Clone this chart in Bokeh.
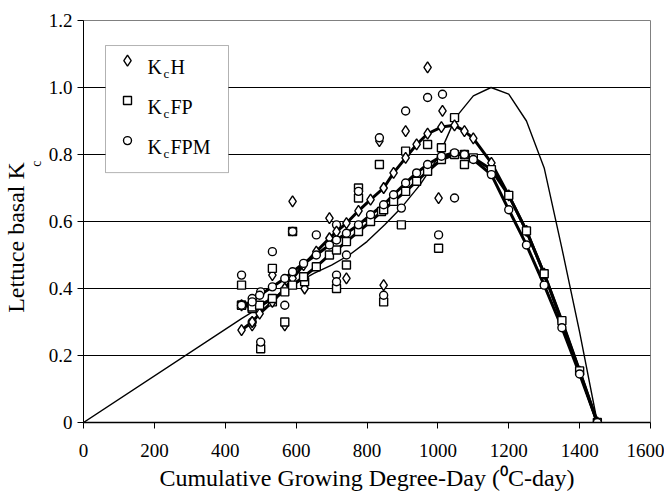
from bokeh.plotting import figure
from bokeh.models import Range1d, FixedTicker, Label, BoxAnnotation, Title
from bokeh.embed import file_html
from bokeh.resources import INLINE

# ---------------- data ----------------
x_ticks = [0, 200, 400, 600, 800, 1000, 1200, 1400, 1600]
y_ticks = [0, 0.2, 0.4, 0.6, 0.8, 1.0, 1.2]
y_tick_labels = ["0", "0.2", "0.4", "0.6", "0.8", "1.0", "1.2"]
grid_ticks = [0.2, 0.4, 0.6, 0.8, 1.0]

series_names = ["H", "FP", "FPM"]

gdd_fit = [446, 476, 497, 533, 568, 590, 621, 657, 694, 714, 742, 776, 810, 847, 875,
           909, 940, 971, 1010, 1047, 1075, 1100, 1151, 1200, 1250, 1300, 1350, 1400, 1450]
kch_fit = [0.276, 0.30, 0.325, 0.36, 0.40, 0.43, 0.47, 0.51, 0.55, 0.57, 0.595, 0.632, 0.665,
           0.70, 0.745, 0.79, 0.83, 0.862, 0.882, 0.887, 0.870, 0.848, 0.775, 0.678, 0.572,
           0.444, 0.30, 0.152, 0.0]
kcfp_fit = [0.35, 0.345, 0.35, 0.37, 0.39, 0.41, 0.435, 0.465, 0.50, 0.515, 0.54, 0.57, 0.60,
            0.635, 0.66, 0.69, 0.72, 0.75, 0.785, 0.80, 0.80, 0.79, 0.755, 0.678, 0.572,
            0.444, 0.304, 0.154, 0.0]
kcfpm_fit = [0.35, 0.36, 0.38, 0.405, 0.43, 0.45, 0.475, 0.50, 0.53, 0.545, 0.565, 0.59, 0.62,
             0.65, 0.68, 0.715, 0.745, 0.77, 0.795, 0.805, 0.80, 0.785, 0.74, 0.635, 0.53,
             0.41, 0.283, 0.145, 0.0]

model_gdd = [0, 446, 500, 550, 600, 650, 700, 750, 800, 850, 900, 950, 1000, 1050, 1100,
             1150, 1200, 1250, 1300, 1350, 1400, 1450]
model_kc = [0.0, 0.31, 0.345, 0.38, 0.415, 0.445, 0.47, 0.50, 0.54, 0.59, 0.645, 0.71,
            0.79, 0.91, 0.975, 1.0, 0.98, 0.90, 0.76, 0.52, 0.27, 0.0]

h_x = [446, 476, 500, 533, 568, 590, 624, 694, 742, 847, 835, 909, 971, 1013, 1002]
h_y = [0.35, 0.29, 0.23, 0.44, 0.29, 0.66, 0.40, 0.61, 0.43, 0.41, 0.84, 0.87, 1.06, 0.93, 0.67]

fp_x = [446, 446, 476, 500, 533, 533, 568, 590, 624, 714, 742, 776, 776, 847, 835, 841,
        897, 909, 971, 1002, 1010, 1047, 1075]
fp_y = [0.41, 0.35, 0.34, 0.22, 0.46, 0.36, 0.30, 0.57, 0.42, 0.40, 0.47, 0.70, 0.67, 0.36,
        0.77, 0.63, 0.59, 0.81, 0.83, 0.52, 0.82, 0.91, 0.77]

fpm_x = [446, 446, 476, 476, 500, 500, 533, 568, 590, 657, 714, 714, 714, 742, 776, 847,
         835, 897, 909, 971, 1013, 1002, 1047]
fpm_y = [0.44, 0.35, 0.37, 0.30, 0.24, 0.39, 0.51, 0.35, 0.57, 0.56, 0.44, 0.42, 0.59, 0.50,
         0.69, 0.38, 0.85, 0.64, 0.93, 0.97, 0.98, 0.56, 0.67]

x_title = "Cumulative Growing Degree-Day (\u2070C-day)"
y_title = "Lettuce basal K"
y_title_sub = "c"

FONT = "Liberation Serif"
FL, FR, FT, FB = 82, 649, 20, 421.7
X0, X1, Y0, Y1 = 0, 1600, 0, 1.2


def dx(px):
    return X0 + (px - FL) * (X1 - X0) / (FR - FL)


def dy(py):
    return Y0 + (FB - py) * (Y1 - Y0) / (FB - FT)


p = figure(frame_width=567, frame_height=402, output_backend="svg", toolbar_location=None,
           x_range=Range1d(X0, X1), y_range=Range1d(Y0, Y1),
           min_border_left=0, min_border_right=14, min_border_top=20, min_border_bottom=0)
p.background_fill_color = "white"
p.border_fill_color = "white"
p.outline_line_color = "#808080"
p.outline_line_width = 1

p.xgrid.visible = False
p.ygrid.ticker = FixedTicker(ticks=grid_ticks)
p.ygrid.grid_line_color = "black"
p.ygrid.grid_line_width = 1

for ax in (p.xaxis[0], p.yaxis[0]):
    ax.axis_line_color = "black"
    ax.major_tick_line_color = "black"
    ax.major_tick_in = 0
    ax.major_tick_out = 6
    ax.minor_tick_line_color = None
    ax.major_label_text_font = FONT
    ax.major_label_text_font_size = "19px"
    ax.major_label_text_color = "black"
    ax.major_label_text_font_style = "normal"
p.xaxis.axis_line_width = 1.5
p.xaxis.ticker = FixedTicker(ticks=x_ticks)
p.yaxis.ticker = FixedTicker(ticks=y_ticks)
p.yaxis.major_label_overrides = {t: s for t, s in zip(y_ticks, y_tick_labels)}
p.xaxis.major_label_standoff = 15
p.yaxis.major_label_standoff = 5
p.xaxis.axis_label = x_title
p.xaxis.axis_label_text_font = FONT
p.xaxis.axis_label_text_font_size = "24px"
p.xaxis.axis_label_text_font_style = "normal"
p.xaxis.axis_label_text_color = "black"
p.xaxis.axis_label_standoff = 5

# y title: subscript column next to the axis, main text further left
sub_title = Title(text=y_title_sub, align="left", offset=FB - 166, standoff=0, text_font=FONT,
                  text_font_size="14px", text_font_style="normal", text_color="black",
                  vertical_align="top")
main_title = Title(text=y_title, align="left", offset=FB - 312, standoff=0,
                   text_font=FONT, text_font_size="24px", text_font_style="normal",
                   text_color="black", vertical_align="bottom")
p.add_layout(sub_title, "left")
p.add_layout(main_title, "left")

box = BoxAnnotation(left=dx(104), right=dx(227), top=dy(45), bottom=dy(172),
                    fill_color="white", fill_alpha=1.0, line_color="black", line_width=1,
                    level="underlay")
p.add_layout(box)

p.line(model_gdd, model_kc, line_color="black", line_width=1.4)
for ys in (kch_fit, kcfp_fit, kcfpm_fit):
    p.line(gdd_fit, ys, line_color="black", line_width=3)

mk = dict(fill_color="white", line_color="black", line_width=1.4)
p.scatter(h_x, h_y, marker="diamond", size=11, **mk)
p.scatter(fp_x, fp_y, marker="square", size=8, **mk)
p.scatter(fpm_x, fpm_y, marker="circle", size=8, **mk)
p.scatter(gdd_fit, kch_fit, marker="diamond", size=11, **mk)
p.scatter(gdd_fit, kcfp_fit, marker="square", size=8, **mk)
p.scatter(gdd_fit, kcfpm_fit, marker="circle", size=8, **mk)

leg_markers = ["diamond", "square", "circle"]
leg_sizes = [11, 8, 8]
leg_py = [60, 100, 140]
for name, m, s, py in zip(series_names, leg_markers, leg_sizes, leg_py):
    p.scatter([dx(126)], [dy(py)], marker=m, size=s, **mk)
    p.add_layout(Label(x=dx(146), y=dy(py + 6), text="K", text_font=FONT,
                       text_font_size="20px", text_color="black", text_baseline="alphabetic"))
    p.add_layout(Label(x=dx(162), y=dy(py + 13), text="c", text_font=FONT,
                       text_font_size="13px", text_color="black", text_baseline="alphabetic"))
    p.add_layout(Label(x=dx(169), y=dy(py + 6), text=name, text_font=FONT,
                       text_font_size="20px", text_color="black", text_baseline="alphabetic"))

open("out.html", "w").write(file_html(p, INLINE))
